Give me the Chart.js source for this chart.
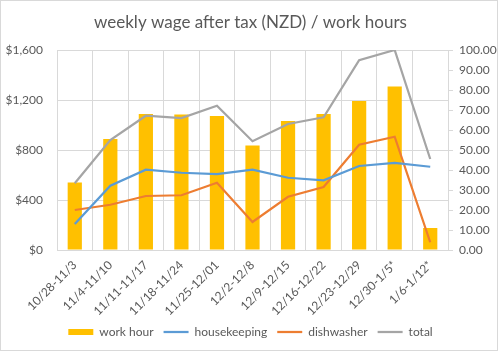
<!DOCTYPE html>
<html>
<head>
<meta charset="utf-8">
<script src="https://cdn.jsdelivr.net/npm/chart.js@4.4.1/dist/chart.umd.min.js"></script>
<style>
  html, body { margin: 0; padding: 0; background: #fff; }
  #wrap { position: relative; width: 501px; height: 352px; }
  #chart { display: block; }
  #frame { position: absolute; left: 0; top: 0; width: 498px; height: 351px; box-sizing: border-box; border: 1px solid #d9d9d9; pointer-events: none; }
</style>
</head>
<body>
<div id="wrap">
  <canvas id="chart" width="501" height="352"></canvas>
  <div id="frame"></div>
</div>
<script>
/* weekly wage after tax + work hours */
const weeks = ['10/28-11/3', '11/4-11/10', '11/11-11/17', '11/18-11/24', '11/25-12/01', '12/2-12/8',
  '12/9-12/15', '12/16-12/22', '12/23-12/29', '12/30-1/5*', '1/6-1/12*'];
const workHours    = [33.8, 55.5, 68, 67.7, 67, 52.3, 64.5, 68, 74.5, 81.8, 11];
const housekeeping = [208, 514, 642, 618, 608, 642, 578, 558, 672, 696, 666];
const dishwasher   = [320, 362, 432, 438, 538, 224, 426, 504, 842, 906, 62];
const total        = [534, 880, 1074, 1056, 1154, 870, 1008, 1062, 1518, 1600, 728];
const wageTicks = [0, 400, 800, 1200, 1600];
const hourTicks = [0, 10, 20, 30, 40, 50, 60, 70, 80, 90, 100];

const TXT = '#595959', GRID = '#d9d9d9';
Chart.defaults.font.family = 'Lato, "Open Sans", sans-serif';
Chart.defaults.font.size = 12;
Chart.defaults.color = TXT;

const line = (label, data, color) => ({
  type: 'line', label, data, yAxisID: 'yWage', order: 0,
  borderColor: color, backgroundColor: color, borderWidth: 2.25,
  pointRadius: 0, tension: 0, fill: false
});

new Chart(document.getElementById('chart'), {
  type: 'bar',
  data: {
    labels: weeks,
    datasets: [
      { label: 'work hour', data: workHours, yAxisID: 'yHours', order: 1,
        backgroundColor: '#ffc000', borderWidth: 0, pointStyle: 'rect',
        categoryPercentage: 1, barPercentage: 0.4 },
      line('housekeeping', housekeeping, '#5b9bd5'),
      line('dishwasher', dishwasher, '#ed7d31'),
      line('total', total, '#a5a5a5')
    ]
  },
  options: {
    responsive: false,
    animation: false,
    layout: { padding: { bottom: 4 } },
    plugins: {
      title: { display: true, text: 'weekly wage after tax (NZD) / work hours', color: TXT,
        font: { size: 17, weight: 'normal' }, padding: { top: 12, bottom: 17.6 } },
      legend: { position: 'bottom',
        labels: { usePointStyle: true, pointStyleWidth: 25, boxHeight: 6, padding: 10,
          sort: (a, b) => a.datasetIndex - b.datasetIndex,
          generateLabels: ch => Chart.defaults.plugins.legend.labels.generateLabels(ch).map(it => {
            if (it.datasetIndex > 0) it.pointStyle = 'line';
            return it;
          }) } },
      tooltip: { enabled: false }
    },
    scales: {
      x: {
        grid: { color: GRID, drawTicks: false, offset: true },
        border: { color: GRID },
        ticks: { minRotation: 45, maxRotation: 45, padding: 8, autoSkip: false },
        afterFit: s => { s.height = 98 - s.chart.legend.height; }
      },
      yWage: {
        position: 'left', min: 0, max: 1600,
        grid: { color: GRID, drawTicks: false },
        border: { display: false },
        ticks: { padding: 14, callback: v => '$' + v.toLocaleString('en-US') },
        afterBuildTicks: s => { s.ticks = wageTicks.map(v => ({ value: v })); },
        afterFit: s => { s.width = 57; }
      },
      yHours: {
        position: 'right', min: 0, max: 100,
        grid: { drawOnChartArea: false, color: GRID, tickLength: 5 },
        border: { color: GRID },
        ticks: { padding: 6, callback: v => v.toFixed(2) },
        afterBuildTicks: s => { s.ticks = hourTicks.map(v => ({ value: v })); },
        afterFit: s => { s.width = 53; }
      }
    }
  }
});
</script>
</body>
</html>
